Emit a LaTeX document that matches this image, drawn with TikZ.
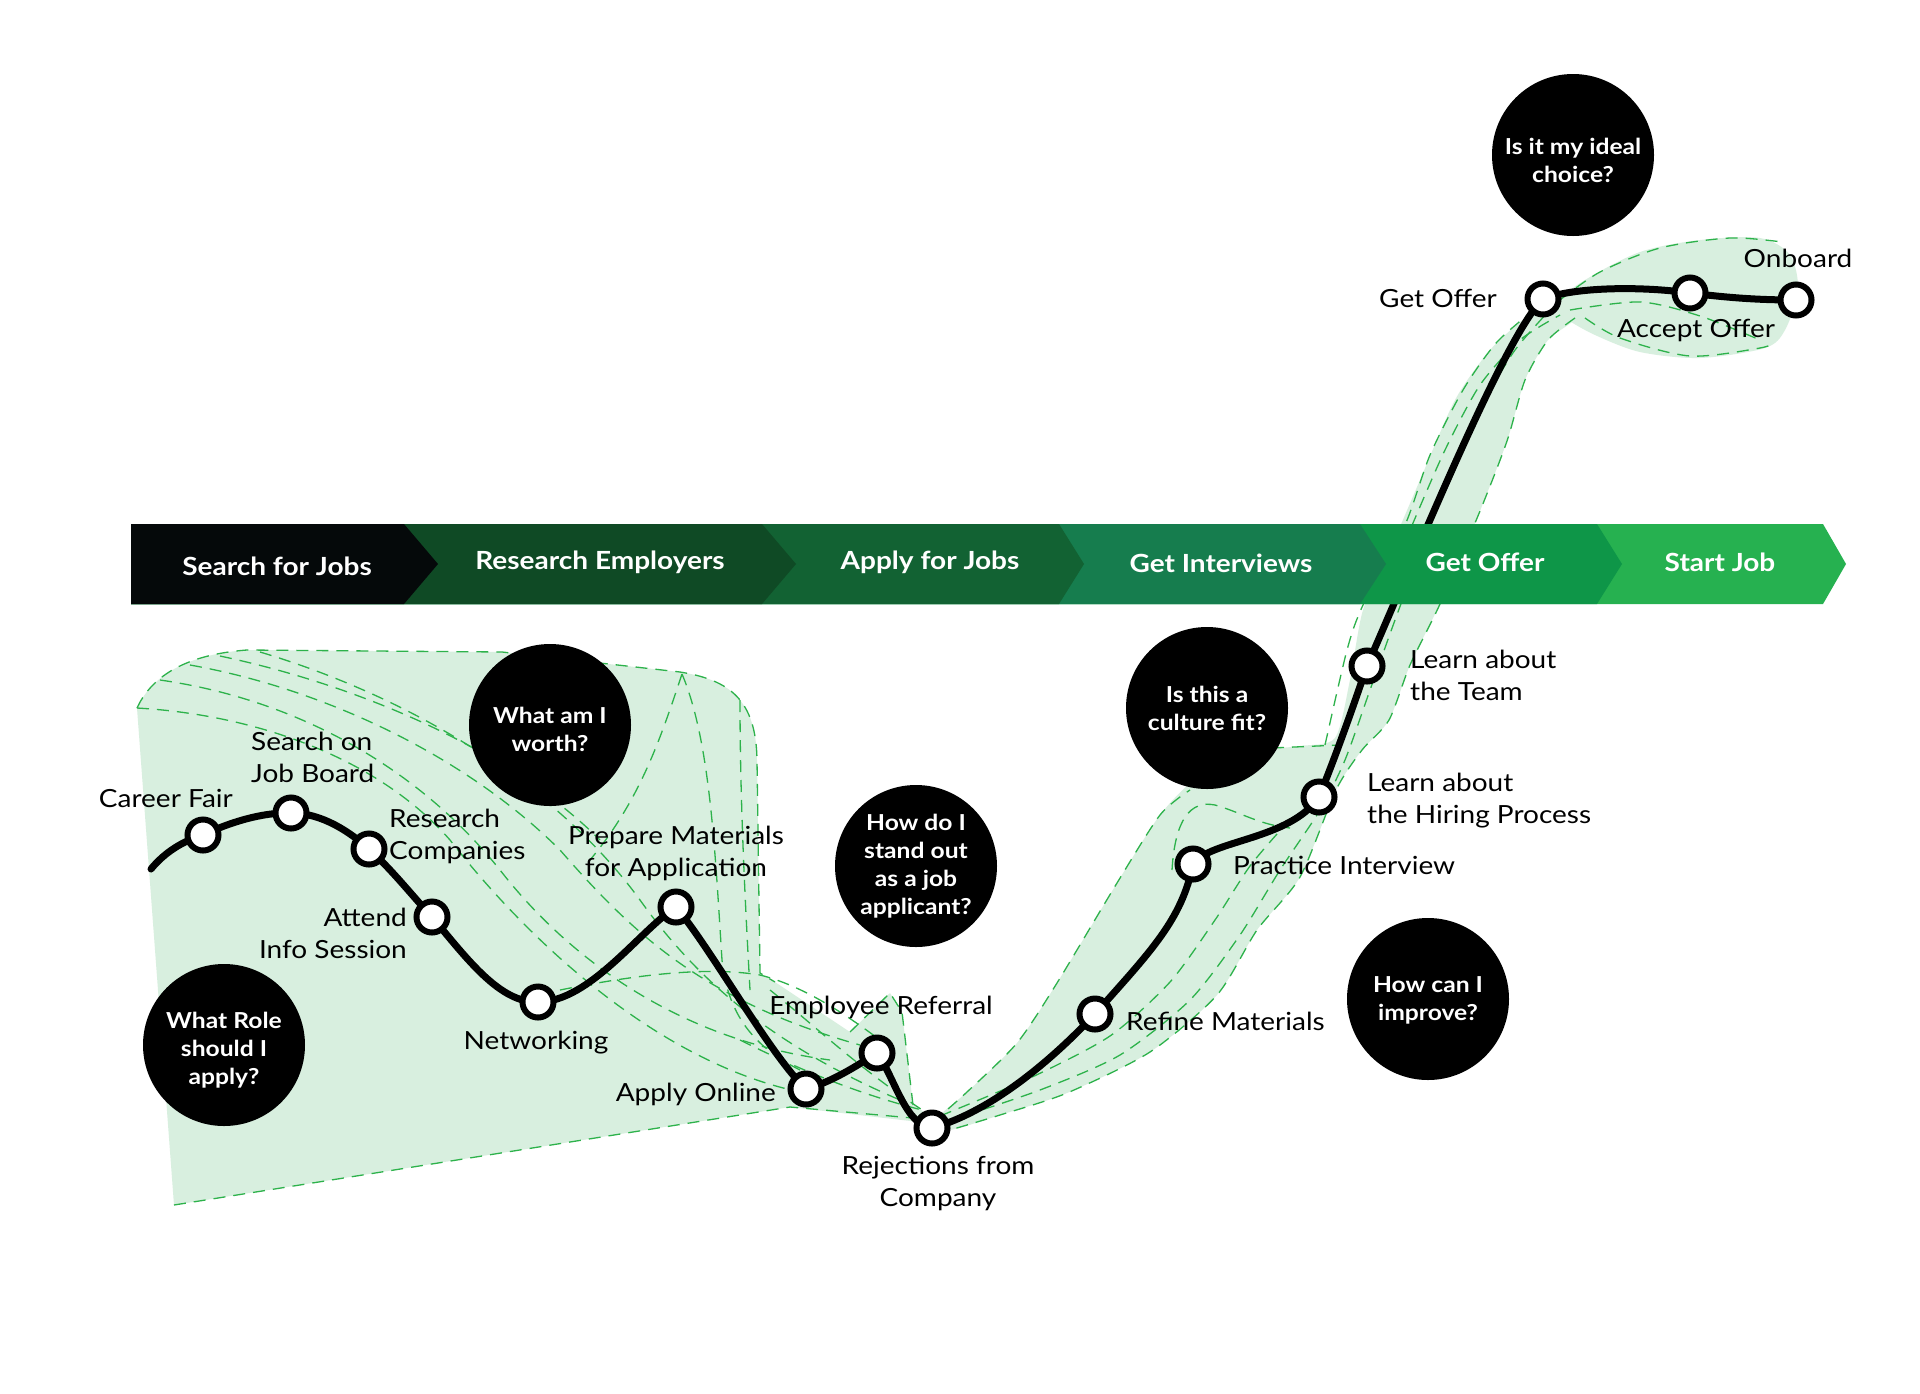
\documentclass[tikz,border=0pt]{standalone}
\usepackage{fontspec}
\setmainfont{Lato}[FakeStretch=1.12]
\definecolor{bk}{HTML}{05090A}
\definecolor{gA}{HTML}{0F4A25}
\definecolor{gB}{HTML}{126233}
\definecolor{gC}{HTML}{167D4E}
\definecolor{gD}{HTML}{0E9648}
\definecolor{gE}{HTML}{26B150}
\definecolor{zonegreen}{HTML}{D8EFDF}
\definecolor{dashgreen}{HTML}{2DB24B}
\tikzset{
  stopnode/.style={circle, fill=white, draw=black, line width=6pt, minimum size=31pt, inner sep=0pt},
  qnode/.style={circle, fill=black, minimum size=162pt, inner sep=0pt},
  qtext/.style={text=white, inner sep=0pt, align=center, font=\bfseries\fontsize{22}{28}\selectfont},
  lbl/.style={inner sep=0pt, font=\fontsize{25}{32}\selectfont},
  bandtext/.style={text=white, inner sep=0pt, font=\bfseries\fontsize{25}{30}\selectfont},
  dsh/.style={draw=dashgreen, dash pattern=on 12pt off 8pt, line width=1.3pt},
  zone/.style={fill=zonegreen},
  track/.style={draw=black, line width=7pt, line join=round, line cap=round}
}
\begin{document}
\begin{tikzpicture}[x=1pt,y=-1pt]
\useasboundingbox[fill=white] (0,0) rectangle (1920,1393);

% ---------- green zones ----------
\fill[zone] (137,708) .. controls (150,680) and (180,655) .. (247,650) -- (502,652) -- (680,672)
  .. controls (730,680) and (756,700) .. (757,760) -- (760,973) -- (775,982) -- (850,1032)
  -- (890,993) -- (902,1012) -- (913,1105) -- (945,1125) -- (790,1107) -- (174,1205) -- cycle;
\fill[zone] plot[smooth cycle, tension=0.45] coordinates {
  (933,1122) (967,1092) (1017,1043) (1057,983) (1117,883) (1160,815) (1200,775) (1250,752)
  (1300,746) (1335,738) (1350,680) (1363,610) (1390,550) (1420,480) (1455,400) (1490,350)
  (1525,318) (1550,302) (1575,318) (1548,340) (1525,380) (1507,441) (1480,511) (1460,560)
  (1440,604) (1410,665) (1389,720) (1362,750) (1336,790) (1300,877) (1257,930) (1217,995)
  (1150,1052) (1067,1093) (1000,1115) (950,1130)};
\fill[zone] plot[smooth cycle, tension=0.5] coordinates {
  (1553,305) (1585,280) (1640,252) (1700,240) (1760,238) (1790,255) (1798,290) (1785,330)
  (1765,348) (1700,358) (1640,352) (1595,335) (1565,318)};

% ---------- dashed strokes, left zone ----------
\draw[dsh] (137,708) .. controls (150,680) and (180,655) .. (247,650) -- (502,652) -- (680,672)
  .. controls (730,680) and (756,700) .. (757,760) -- (760,973) -- (775,982);
\draw[dsh] (174,1205) -- (790,1107) -- (935,1120);
\draw[dsh] (137,708) .. controls (260,715) and (380,760) .. (450,840) .. controls (520,930) and (650,1060) .. (800,1092);
\draw[dsh] (160,680) .. controls (300,700) and (420,770) .. (500,870) .. controls (570,960) and (680,1040) .. (830,1060);
\draw[dsh] (190,665) .. controls (330,690) and (470,760) .. (560,850) .. controls (630,930) and (700,1000) .. (860,1045);
\draw[dsh] (220,656) .. controls (380,690) and (520,760) .. (600,840);
\draw[dsh] (260,652) .. controls (420,700) and (560,790) .. (640,900) .. controls (690,970) and (760,1040) .. (900,1100);
\draw[dsh] (682,674) .. controls (660,740) and (640,800) .. (590,860);
\draw[dsh] (682,674) .. controls (710,740) and (715,850) .. (722,960) .. controls (728,1020) and (760,1050) .. (800,1070);
\draw[dsh] (740,700) .. controls (740,800) and (745,900) .. (750,990);
\draw[dsh] (560,990) .. controls (620,978) and (700,965) .. (760,975) .. controls (800,985) and (840,1010) .. (880,1040);
\draw[dsh] (770,990) .. controls (820,1030) and (860,1070) .. (930,1115);
\draw[dsh] (740,1040) .. controls (800,1070) and (860,1095) .. (930,1112);
\draw[dsh] (850,1032) -- (890,993) -- (902,1012) -- (913,1105);

% ---------- dashed strokes, ribbon ----------
\draw[dsh] plot[smooth, tension=0.45] coordinates {(933,1122) (967,1092) (1017,1043) (1057,983) (1117,883) (1160,815) (1190,790)};
\draw[dsh] (1172,870) .. controls (1175,820) and (1190,800) .. (1215,805) .. controls (1240,812) and (1260,825) .. (1290,828);
\draw[dsh] (1272,748) -- (1340,745);
\draw[dsh] plot[smooth, tension=0.45] coordinates {(1325,745) (1347,650) (1363,605) (1405,525) (1430,455) (1463,390) (1497,342) (1540,305)};
\draw[dsh] plot[smooth, tension=0.45] coordinates {(1575,318) (1548,340) (1525,380) (1507,441) (1480,511) (1440,604) (1410,665) (1389,720) (1362,750) (1336,790) (1300,877) (1257,930) (1217,995) (1150,1052) (1067,1093) (1000,1115) (950,1130)};
\draw[dsh] plot[smooth, tension=0.45] coordinates {(945,1122) (1040,1090) (1120,1055) (1190,1000) (1240,935) (1280,870) (1320,810) (1345,760) (1370,690) (1395,620) (1425,540) (1455,465) (1485,400) (1515,350) (1548,312)};
\draw[dsh] plot[smooth, tension=0.45] coordinates {(940,1116) (1030,1078) (1110,1036) (1170,982) (1215,920) (1250,866) (1285,825)};
\draw[dsh] plot[smooth, tension=0.45] coordinates {(1380,600) (1410,530) (1445,450) (1480,385) (1520,340) (1560,315)};

% ---------- dashed strokes, top blob ----------
\draw[dsh] plot[smooth, tension=0.5] coordinates {(1560,300) (1600,272) (1660,248) (1730,238) (1782,242)};
\draw[dsh] plot[smooth, tension=0.5] coordinates {(1585,318) (1620,338) (1690,356) (1760,348) (1775,342)};
\draw[dsh] plot[smooth, tension=0.5] coordinates {(1570,310) (1640,302) (1700,316) (1760,340)};

% ---------- journey track ----------
\coordinate (p0) at (151,869);
\coordinate (p1) at (203,835);
\coordinate (p2) at (291,813);
\coordinate (p3) at (369,849);
\coordinate (p4) at (432,917);
\coordinate (p5) at (538,1002);
\coordinate (p6) at (676,907);
\coordinate (p7) at (806,1089);
\coordinate (p8) at (877,1053);
\coordinate (p9) at (932,1128);
\coordinate (p10) at (1095,1014);
\coordinate (p11) at (1193,864);
\coordinate (p12) at (1319,797);
\coordinate (p13) at (1367,666);
\coordinate (p14) at (1543,299);
\coordinate (p15) at (1690,293);
\coordinate (p16) at (1796,300);

\draw[track] (p0) .. controls (165,852) and (183,841) .. (p1)
  .. controls (228,823) and (262,812) .. (p2)
  .. controls (322,813) and (350,832) .. (p3)
  .. controls (392,870) and (410,893) .. (p4)
  .. controls (468,960) and (500,1003) .. (p5)
  .. controls (590,1002) and (640,930) .. (p6)
  .. controls (712,950) and (770,1055) .. (p7)
  .. controls (832,1082) and (858,1065) .. (p8)
  .. controls (895,1078) and (905,1125) .. (p9)
  .. controls (990,1112) and (1050,1062) .. (p10)
  .. controls (1150,952) and (1182,920) .. (p11)
  .. controls (1210,840) and (1290,840) .. (p12)
  .. controls (1336,755) and (1352,710) .. (p13)
  .. controls (1418,550) and (1505,335) .. (p14)
  .. controls (1575,287) and (1640,286) .. (p15)
  .. controls (1730,298) and (1760,300) .. (p16);

\foreach \i in {1,...,16} { \node[stopnode] (s\i) at (p\i) {}; }

% ---------- stage banner ----------
\fill[gE] (131,524) -- (1823,524) -- (1846,564) -- (1823,604) -- (131,604) -- cycle;
\fill[gD] (131,524) -- (1597,524) -- (1622,564) -- (1597,604) -- (131,604) -- cycle;
\fill[gC] (131,524) -- (1360,524) -- (1386,564) -- (1360,604) -- (131,604) -- cycle;
\fill[gB] (131,524) -- (1059,524) -- (1084,564) -- (1059,604) -- (131,604) -- cycle;
\fill[gA] (131,524) -- (762,524) -- (796,564) -- (762,604) -- (131,604) -- cycle;
\fill[bk] (131,524) -- (404,524) -- (438,564) -- (404,604) -- (131,604) -- cycle;
\node[bandtext] (b1) at (277,566) {Search for Jobs};
\node[bandtext] (b2) at (600,562) {Research Employers};
\node[bandtext] (b3) at (930,562) {Apply for Jobs};
\node[bandtext] (b4) at (1221,563) {Get Interviews};
\node[bandtext] (b5) at (1485,562) {Get Offer};
\node[bandtext] (b6) at (1720,562) {Start Job};

% ---------- labels ----------
\node[lbl, anchor=east] (lCF) at (233,798) {Career Fair};
\node[lbl, anchor=west, align=left] (lJB) at (251,757) {Search on\\Job Board};
\node[lbl, anchor=west, align=left] (lRC) at (389,836) {Research\\Companies};
\node[lbl, anchor=east, align=right] (lAI) at (407,933) {Attend\\Info Session};
\node[lbl] (lNW) at (536,1043) {Networking};
\node[lbl, align=center] (lPM) at (676,853) {Prepare Materials\\for Application};
\node[lbl, anchor=east] (lAO) at (776,1094) {Apply Online};
\node[lbl] (lER) at (881,1007) {Employee Referral};
\node[lbl, align=center] (lRJ) at (938,1183) {Rejections from\\Company};
\node[lbl, anchor=west] (lRF) at (1126,1021) {Refine Materials};
\node[lbl, anchor=west] (lPI) at (1233,865) {Practice Interview};
\node[lbl, anchor=west, align=left] (lHP) at (1367,801) {Learn about\\the Hiring Process};
\node[lbl, anchor=west, align=left] (lLT) at (1410,675) {Learn about\\the Team};
\node[lbl, anchor=east] (lGO) at (1497,298) {Get Offer};
\node[lbl] (lAC) at (1696,330) {Accept Offer};
\node[lbl] (lOB) at (1798,258) {Onboard};

% ---------- question bubbles ----------
\node[qnode] (q1) at (1573,155) {};
\node[qnode] (q2) at (550,725) {};
\node[qnode] (q3) at (224,1045) {};
\node[qnode] (q4) at (916,866) {};
\node[qnode] (q5) at (1207,708) {};
\node[qnode] (q6) at (1428,999) {};
\node[qtext] (t1) at (1573,160) {Is it my ideal\\choice?};
\node[qtext] (t2) at (550,729) {What am I\\worth?};
\node[qtext] (t3) at (224,1050) {What Role\\should I\\apply?};
\node[qtext] (t4) at (916,866) {How do I\\stand out\\as a job\\applicant?};
\node[qtext] (t5) at (1207,708) {Is this a\\culture fit?};
\node[qtext] (t6) at (1428,1000) {How can I\\improve?};
\end{tikzpicture}
\end{document}
